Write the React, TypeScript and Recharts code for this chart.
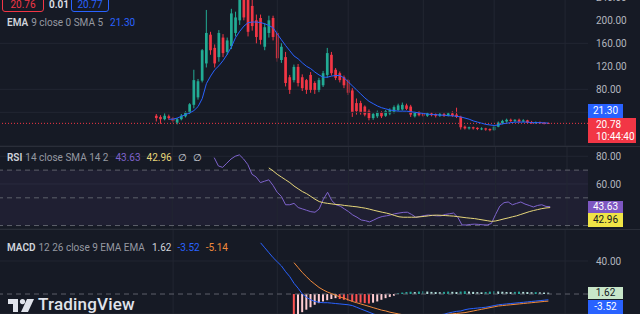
import {
  Bar,
  CartesianGrid,
  Cell,
  ComposedChart,
  Line,
  ReferenceArea,
  ReferenceLine,
  XAxis,
  YAxis
} from "recharts";

// candles, one per bar
const opens = [34, 32, 28, 33, 30, 22, 28, 33, 39, 53, 66, 95, 125, 175, 152, 136, 170, 145, 155, 178, 200, 236, 238, 225, 200, 204, 154, 178, 204, 178, 131, 136, 101, 96, 119, 101, 96, 105, 91, 79, 87, 105, 140, 114, 108, 101, 96, 78, 56, 56, 50, 42, 30, 33, 40, 34, 38, 40, 44, 45, 52, 50, 33, 40, 38, 34, 38, 37, 34, 37, 34, 38, 36, 32, 15, 12, 14, 13, 11, 12, 11, 9, 15, 21, 24, 27, 25, 27, 24, 26, 23, 21, 23, 22, 21.5];
const highs = [37, 35, 38, 36, 32, 30, 37, 42, 56, 114, 98, 150, 218, 180, 158, 183, 176, 170, 220, 215, 242, 245, 246, 236, 210, 210, 195, 208, 208, 182, 160, 145, 105, 123, 124, 106, 98, 110, 94, 100, 112, 152, 145, 117, 111, 104, 98, 82, 64, 60, 52, 45, 39, 43, 42, 44, 47, 52, 55, 57, 55, 53, 41, 42, 40, 40, 40, 38, 39, 39, 40, 42, 48, 34, 17, 15, 15, 14, 14, 13, 12, 16, 24, 27, 29, 29, 28, 29, 28, 27, 25, 24, 24, 23, 22];
const lows = [24, 20, 26, 27, 22, 19, 26, 31, 37, 47, 62, 92, 118, 140, 118, 128, 136, 140, 150, 172, 192, 200, 172, 182, 160, 158, 148, 170, 165, 128, 126, 85, 72, 92, 85, 77, 72, 74, 72, 75, 84, 100, 104, 96, 92, 82, 70, 32, 36, 36, 33, 26, 27, 30, 30, 32, 35, 38, 42, 43, 44, 32, 31, 33, 32, 32, 33, 31, 32, 32, 33, 32, 30, 10, 10, 10, 10, 9, 9, 8, 7, 8, 14, 19, 22, 23, 23, 22, 23, 21, 20, 20, 20, 19, 20];
const closes = [30, 28, 34, 30, 25, 28, 34, 40, 54, 96, 94, 148, 178, 148, 125, 178, 143, 165, 212, 205, 236, 205, 180, 190, 171, 166, 188, 200, 171, 134, 154, 91, 79, 119, 91, 82, 79, 79, 79, 96, 108, 143, 108, 100, 96, 87, 74, 40, 42, 40, 36, 30, 37, 40, 33, 42, 44, 49, 52, 53, 46, 36, 39, 35, 34, 38, 35, 34, 37, 34, 38, 34, 32, 14, 12, 14, 12, 11, 12, 10, 9, 15, 22, 25, 27, 25, 27, 24, 26, 22, 21, 23, 21, 21, 20.78];

// EMA 9 smoothed, from candle 3
const emaStart = 3;
const ema = [28, 28, 30, 33, 36, 39, 43, 50, 64, 90, 103, 114, 121, 130, 141, 154, 170, 181, 190, 196, 197, 197, 196, 194, 191, 187, 176, 166, 156, 147, 138, 133, 126, 120, 116, 110, 105, 101, 101, 103, 104, 104, 100, 93, 86, 79, 72, 65, 59, 55, 51, 48, 46, 44, 43, 42, 42, 42, 41, 40, 39, 38, 37, 36, 36, 35, 35, 34, 34, 33, 32, 30, 28, 25, 23, 21, 19, 18, 17, 18, 20, 21, 22, 23, 23, 23, 23, 22, 22, 22, 21.5, 21.3];

// RSI 14 and its SMA
const rsiStart = 14;
const rsi = [79, 73, 72, 75, 78, 80, 81, 78, 74, 67, 65, 61, 62, 63, 59, 54, 51, 45, 45, 46, 43, 42, 41, 40, 39.6, 42, 49, 54, 48, 45, 44, 42, 40, 37.6, 36, 34, 33.5, 32.6, 34, 35.5, 36.5, 37, 37.6, 38.5, 39, 39.5, 39.6, 38, 36, 36.5, 37.2, 37.6, 37.3, 37, 37, 38, 38.5, 39, 36, 30.4, 30.4, 30.8, 31, 30.8, 30.5, 30.4, 31.5, 38, 44, 46.5, 47, 45, 46, 47, 45.5, 44.5, 43.4, 44.5, 45, 43.8, 43.63];
const rsiMaStart = 27;
const rsiMa = [71.6, 69.5, 67, 65, 63, 61, 58.5, 56.5, 54.5, 53, 51, 49, 47.3, 46.5, 46, 45.6, 45.2, 45, 44.5, 44.2, 43.8, 43.5, 43, 42.5, 41.8, 41, 40.3, 39.6, 39, 38.2, 37.2, 36.3, 36, 36, 36, 36, 36.3, 36.6, 37, 37.4, 37.5, 37.4, 37.2, 37, 36.8, 36.4, 36, 35.6, 35.3, 35, 34.5, 34, 33.5, 33, 33.3, 34, 34.8, 35.5, 36.3, 37, 38, 39, 40, 40.8, 41.5, 42.2, 42.7, 42.96];

// MACD 12 26 9
const macdStart = 25;
const macd = [62, 56, 50, 44, 39, 34, 27, 21, 13, 7, 0, -4, -7, -9, -10, -10.5, -10.5, -11, -11.5, -12, -12.5, -13, -14, -16, -18, -20, -22, -24, -26, -26, -27, -27.5, -27.5, -27.5, -27, -27, -26.5, -26.5, -26, -26, -25.5, -25.5, -25, -25, -24.5, -23, -22, -21, -20.5, -19, -18, -17.5, -17, -16.5, -16, -15, -14, -13, -12.5, -12, -11.5, -11, -10.5, -10, -9.5, -9, -8.5, -8, -7.5, -7];
const signalStart = 33;
const signal = [38, 32, 26, 21, 16, 12, 8, 5, 2.5, 0.5, -1.5, -3.5, -5, -7, -9, -10.5, -12, -13.5, -15, -16.5, -18, -19.5, -20.5, -22, -23, -24, -25, -25.5, -25.5, -25.5, -25.5, -25.5, -25.5, -25.5, -25.5, -25.5, -25, -24.5, -24, -23.5, -23, -22.5, -21.5, -20.5, -19.5, -18.5, -17.5, -16.5, -15.5, -14.5, -14, -13.5, -13, -12.5, -12, -11.5, -11, -10.5, -10, -9.5, -9, -8.6];
const histStart = 33;
const hist = [-30, -28, -22, -19, -16, -13, -11, -9, -7.5, -6, -5, -6, -7, -8, -9, -10, -10.5, -11, -11.5, -10.5, -9, -7, -5, -3.5, -2, 1, 1.8, 2.5, 2.8, 2.4, 3, 3.3, 3, 2.6, 2.4, 2.2, 2.6, 3, 2.7, 2.4, 3, 3.4, 3, 2.6, 2.3, 2.1, 2.5, 2.9, 3.3, 3.1, 2.8, 2.5, 2.3, 2.6, 2.9, 2.6, 2.4, 2.2, 2.3, 2.0, 1.8, 1.62];

// 40.00 sits under the last-value labels, only its grid line shows
const priceTicks = [80, 120, 160, 200, 240];
const priceHiddenGrid = [40];
const rsiTicks = [60, 80];
const macdTicks = [40];
const rsiLevels = [70, 50, 30];
// vertical grid, at these candle indexes
const gridCandles = [4, 29, 46, 64, 81, 98];

const LEFT_PAD = 37;
const RIGHT_PAD = 9;

const GREEN = "#22ab94";
const RED = "#f23645";
const BG = "#161a25";
const GRID = "#222632";
const FONT = "Roboto, 'Noto Sans', sans-serif";
const AXIS_TEXT = "#b2b5be";

const at = (arr: number[], start: number, j: number) => {
  const v = arr[j - start];
  return v === undefined ? null : v;
};

const total = LEFT_PAD + opens.length + RIGHT_PAD;
const rows = Array.from({ length: total }, (_, k) => {
  const j = k - LEFT_PAD;
  const has = j >= 0 && j < opens.length;
  return {
    k,
    o: has ? opens[j] : null,
    h: has ? highs[j] : null,
    l: has ? lows[j] : null,
    c: has ? closes[j] : null,
    range: has ? [lows[j], highs[j]] : null,
    ema: has ? at(ema, emaStart, j) : null,
    rsi: has ? at(rsi, rsiStart, j) : null,
    rsiMa: has ? at(rsiMa, rsiMaStart, j) : null,
    macd: has ? at(macd, macdStart, j) : null,
    signal: has ? at(signal, signalStart, j) : null,
    hist: has ? at(hist, histStart, j) : null
  };
});

const histColor = (i: number) => {
  const v = rows[i].hist;
  const prev = i > 0 ? rows[i - 1].hist : null;
  if (v == null) return "transparent";
  if (v >= 0) return prev == null || v >= prev ? "#26a69a" : "#b2dfdb";
  return prev == null || v < prev ? "#ff5252" : "#ffcdd2";
};

const Candle = (props: any) => {
  const { x, y, width, height, payload } = props;
  if (!payload || payload.o == null) return <g />;
  const { o, h, l, c } = payload;
  const top = Math.min(y, y + height);
  const hgt = Math.abs(height);
  const ppu = hgt / (h - l);
  const color = c >= o ? GREEN : RED;
  const cx = x + width / 2;
  const bodyTop = top + (h - Math.max(o, c)) * ppu;
  const bodyH = Math.max(1, Math.abs(o - c) * ppu);
  const bw = Math.max(1, width - 1.3);
  return (
    <g>
      <line x1={cx} x2={cx} y1={top} y2={top + hgt} stroke={color} strokeWidth={1} />
      <rect x={cx - bw / 2} y={bodyTop} width={bw} height={bodyH} fill={color} />
    </g>
  );
};

const axisProps = {
  orientation: "right" as const,
  width: 52,
  axisLine: false,
  tickLine: false,
  allowDataOverflow: true,
  tick: { fill: AXIS_TEXT, fontSize: 10, fontFamily: FONT },
  tickFormatter: (v: number) => v.toFixed(2)
};

const vGrid = gridCandles.map((j) => (
  <ReferenceLine key={j} x={j + LEFT_PAD} stroke={GRID} />
));

const box = (left: number, top: number, w: number, h: number, bg: string, color: string, text: string) => (
  <div
    style={{
      position: "absolute",
      left,
      top,
      width: w,
      height: h,
      background: bg,
      color,
      fontSize: 10,
      lineHeight: `${h}px`,
      textAlign: "center"
    }}
  >
    {text}
  </div>
);

const Legend = ({ top, name, args, values }: { top: number; name: string; args: string; values: [string, string][] }) => (
  <div style={{ position: "absolute", left: 7, top, fontSize: 10, whiteSpace: "nowrap", display: "flex", gap: 6 }}>
    <span style={{ color: "#d1d4dc", fontWeight: 600 }}>{name}</span>
    <span style={{ color: "#9598a1", marginLeft: -3, marginRight: 1 }}>{args}</span>
    {values.map(([t, col], i) => (
      <span key={i} style={{ color: col }}>
        {t}
      </span>
    ))}
  </div>
);

export default function App() {
  const last = closes[closes.length - 1];
  return (
    <div
      style={{
        position: "fixed",
        left: 0,
        top: 0,
        width: 640,
        height: 314,
        overflow: "hidden",
        background: BG,
        fontFamily: FONT
      }}
    >
      {/* price pane */}
      <div style={{ position: "absolute", left: 0, top: -12 }}>
        <ComposedChart width={640} height={158} data={rows} margin={{ top: 0, right: 0, bottom: 0, left: 0 }} barCategoryGap={0}>
          <CartesianGrid vertical={false} stroke={GRID} />
          <XAxis dataKey="k" hide />
          <YAxis {...axisProps} domain={[-18.6, 256.2]} ticks={priceTicks} />
          {vGrid}
          {priceHiddenGrid.map((v) => (
            <ReferenceLine key={v} y={v} stroke={GRID} />
          ))}
          <ReferenceLine y={last} stroke={RED} strokeDasharray="1 2" />
          <Bar dataKey="range" shape={Candle} isAnimationActive={false} />
          <Line dataKey="ema" stroke="#2962ff" strokeWidth={1} dot={false} isAnimationActive={false} />
        </ComposedChart>
      </div>

      {/* RSI pane */}
      <div style={{ position: "absolute", left: 0, top: 146 }}>
        <ComposedChart width={640} height={83} data={rows} margin={{ top: 0, right: 0, bottom: 0, left: 0 }}>
          <CartesianGrid vertical={false} stroke={GRID} />
          <XAxis dataKey="k" hide />
          <YAxis {...axisProps} domain={[27.5, 87.4]} ticks={rsiTicks} />
          {vGrid}
          <ReferenceArea y1={30} y2={70} fill="#7e57c2" fillOpacity={0.09} stroke="none" />
          {rsiLevels.map((v) => (
            <ReferenceLine key={v} y={v} stroke="#5d606b" strokeDasharray="5 4" />
          ))}
          <Line dataKey="rsi" stroke="#7e63cc" strokeWidth={1} dot={false} isAnimationActive={false} />
          <Line dataKey="rsiMa" stroke="#e6d67a" strokeWidth={1} dot={false} isAnimationActive={false} />
        </ComposedChart>
      </div>

      {/* MACD pane */}
      <div style={{ position: "absolute", left: 0, top: 229 }}>
        <ComposedChart width={640} height={85} data={rows} margin={{ top: 0, right: 0, bottom: 0, left: 0 }} barCategoryGap="22%">
          <CartesianGrid vertical={false} stroke={GRID} />
          <XAxis dataKey="k" hide />
          <YAxis {...axisProps} domain={[-24.2, 78.8]} ticks={macdTicks} />
          {vGrid}
          <ReferenceLine y={0} stroke="#5d606b" strokeDasharray="5 4" />
          <Bar dataKey="hist" isAnimationActive={false}>
            {rows.map((_, i) => (
              <Cell key={i} fill={histColor(i)} />
            ))}
          </Bar>
          <Line dataKey="macd" stroke="#2962ff" strokeWidth={1} dot={false} isAnimationActive={false} />
          <Line dataKey="signal" stroke="#f08a3c" strokeWidth={1} dot={false} isAnimationActive={false} />
        </ComposedChart>
      </div>

      {/* pane separators */}
      <div style={{ position: "absolute", left: 0, top: 146, width: 640, height: 1, background: "#2a2e39" }} />
      <div style={{ position: "absolute", left: 0, top: 229, width: 640, height: 1, background: "#2a2e39" }} />

      {/* top buttons */}
      <div style={{ position: "absolute", left: 2, top: -5, width: 40, height: 15, border: `1px solid ${RED}`, borderRadius: 3, color: RED, fontSize: 10, lineHeight: "18px", textAlign: "center" }}>
        20.76
      </div>
      <div style={{ position: "absolute", left: 49, top: 0, color: "#e0e3eb", fontSize: 10, fontWeight: 600, lineHeight: "10px" }}>0.01</div>
      <div style={{ position: "absolute", left: 71, top: -5, width: 36, height: 15, border: "1px solid #2962ff", borderRadius: 3, color: "#2962ff", fontSize: 10, lineHeight: "18px", textAlign: "center" }}>
        20.77
      </div>

      <Legend top={17} name="EMA" args="9 close 0 SMA 5" values={[["21.30", "#2962ff"]]} />
      <Legend top={152} name="RSI" args="14 close SMA 14 2" values={[["43.63", "#7e63cc"], ["42.96", "#e6d67a"], ["∅", "#d1d4dc"], ["∅", "#d1d4dc"]]} />
      <Legend top={242} name="MACD" args="12 26 close 9 EMA EMA" values={[["1.62", "#d1d4dc"], ["-3.52", "#2962ff"], ["-5.14", "#f08a3c"]]} />

      {/* last value labels */}
      {box(588, 104, 35, 14, "#2962ff", "#fff", "21.30")}
      <div style={{ position: "absolute", left: 588, top: 118, width: 48, height: 25, background: RED, color: "#fff", fontSize: 10, lineHeight: "12px", paddingLeft: 8, boxSizing: "border-box", paddingTop: 1 }}>
        <div>20.78</div>
        <div>10:44:40</div>
      </div>
      {box(588, 201, 35, 12, "#7e57c2", "#fff", "43.63")}
      {box(588, 213, 35, 14, "#f0e446", "#131722", "42.96")}
      {box(588, 287, 35, 12, "#c8e6c9", "#131722", "1.62")}
      {box(588, 300, 35, 14, "#2962ff", "#fff", "-3.52")}

      {/* TradingView mark */}
      <svg style={{ position: "absolute", left: 8, top: 299 }} width={26} height={14}>
        <path d="M0 0 H10 V13 H5 V5 H0 Z" fill="#e0e3eb" />
        <circle cx={14.5} cy={2.6} r={2.6} fill="#e0e3eb" />
        <path d="M19 0 H26 L20 13 H13 Z" fill="#e0e3eb" />
      </svg>
      <div style={{ position: "absolute", left: 38, top: 294, color: "#e0e3eb", fontSize: 17, fontWeight: 500, letterSpacing: 0.2 }}>
        TradingView
      </div>
    </div>
  );
}
